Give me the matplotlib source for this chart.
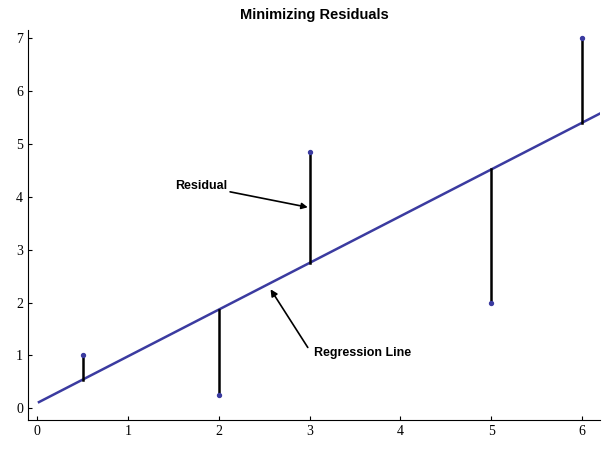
import matplotlib
matplotlib.use("Agg")
import matplotlib.pyplot as plt
import numpy as np

px = [0.5, 2, 3, 5, 6]
py = [1.0, 0.25, 4.85, 2.0, 7.0]
intercept = 0.1
slope = 0.883
xticks = [0, 1, 2, 3, 4, 5, 6]
yticks = [0, 1, 2, 3, 4, 5, 6, 7]

fig = plt.figure(figsize=(6.1, 4.55), dpi=100)
ax = fig.add_axes([0.046, 0.077, 0.938, 0.857])
ax.set_xlim(-0.1, 6.2)
ax.set_ylim(-0.22, 7.15)
lx = np.array([0.02, 6.2])
ax.plot(lx, intercept + slope * lx, color="#3b3ba0", lw=1.8)
for x, y in zip(px, py):
    ax.plot([x, x], [y, intercept + slope * x], color="black", lw=1.8)
ax.scatter(px, py, s=8, color="#3b3ba0", zorder=3)
for s in ["top", "right"]:
    ax.spines[s].set_visible(False)
ax.set_xticks(xticks)
ax.set_yticks(yticks)
ax.tick_params(direction="in", length=3, labelsize=10)
for lab in ax.get_xticklabels() + ax.get_yticklabels():
    lab.set_fontfamily("Liberation Serif")
ax.set_title("Minimizing Residuals", fontweight="bold", fontsize=10.5,
             fontfamily="Liberation Sans", pad=8)
ax.annotate("Residual", xy=(2.98, 3.8), xytext=(1.52, 4.2),
            fontsize=9, fontweight="bold", fontfamily="Liberation Sans", va="center",
            arrowprops=dict(arrowstyle="-|>", color="black", lw=1.2, shrinkA=0, shrinkB=0))
ax.annotate("", xy=(2.57, 2.25), xytext=(2.98, 1.15),
            arrowprops=dict(arrowstyle="-|>", color="black", lw=1.2, shrinkA=0, shrinkB=0))
ax.text(3.05, 1.04, "Regression Line", fontsize=9, fontweight="bold",
        fontfamily="Liberation Sans", va="center")
fig.savefig("out.png", dpi=100)
